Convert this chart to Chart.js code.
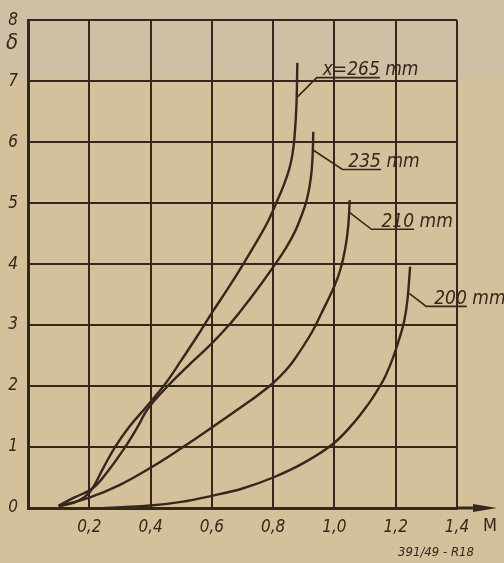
<!DOCTYPE html>
<html>
<head>
<meta charset="utf-8">
<script src="https://cdn.jsdelivr.net/npm/chart.js@4.4.1/dist/chart.umd.min.js"></script>
<style>
  html, body { margin: 0; padding: 0; }
  body {
    width: 504px;
    height: 563px;
    background: linear-gradient(to bottom, #cdc0a4 0px, #cdc0a4 77px, #d5c09c 77px, #d5c09c 100%);
  }
  #wrap { position: relative; width: 504px; height: 563px; }
</style>
</head>
<body>
<div id="wrap"><canvas id="chart" width="504" height="563"></canvas></div>
<script>
// curves: [M, delta]
const curve265 = [[0.1, 0.03], [0.15, 0.09], [0.185, 0.18], [0.21, 0.32], [0.245, 0.65], [0.284, 1.0], [0.33, 1.33], [0.39, 1.68], [0.45, 2.05], [0.5, 2.42], [0.55, 2.8], [0.6, 3.2], [0.65, 3.58], [0.7, 3.98], [0.75, 4.4], [0.785, 4.72], [0.81, 5.0], [0.835, 5.3], [0.852, 5.55], [0.863, 5.8], [0.87, 6.1], [0.876, 6.6], [0.879, 7.3]];
const curve235 = [[0.1, 0.04], [0.15, 0.17], [0.21, 0.32], [0.26, 0.6], [0.317, 1.0], [0.36, 1.35], [0.39, 1.62], [0.456, 2.0], [0.52, 2.32], [0.6, 2.7], [0.656, 3.0], [0.7, 3.27], [0.75, 3.6], [0.8, 3.95], [0.84, 4.25], [0.87, 4.52], [0.893, 4.8], [0.908, 5.02], [0.918, 5.25], [0.925, 5.5], [0.929, 5.8], [0.931, 6.17]];
const curve210 = [[0.1, 0.03], [0.2, 0.17], [0.3, 0.38], [0.4, 0.66], [0.5, 0.98], [0.6, 1.32], [0.7, 1.67], [0.75, 1.85], [0.8, 2.05], [0.84, 2.25], [0.87, 2.44], [0.925, 2.87], [0.96, 3.22], [1.0, 3.64], [1.02, 3.92], [1.035, 4.25], [1.045, 4.62], [1.05, 5.05]];
const curve200 = [[0.25, 0.0], [0.4, 0.04], [0.5, 0.1], [0.6, 0.2], [0.7, 0.32], [0.8, 0.5], [0.9, 0.74], [0.995, 1.05], [1.06, 1.38], [1.11, 1.7], [1.14, 1.93], [1.165, 2.15], [1.19, 2.45], [1.21, 2.75], [1.227, 3.05], [1.238, 3.4], [1.247, 3.96]];

// curve names and where their leader line leaves the curve
const curveNames = ["x=265", "235", "210", "200"];
const nameAnchors = [[0.877, 6.73], [0.928, 5.88], [1.049, 4.85], [1.244, 3.52]];
const unitText = " mm";

const xTicks = [0, 0.2, 0.4, 0.6, 0.8, 1.0, 1.2, 1.4];
const yTicks = [0, 1, 2, 3, 4, 5, 6, 7, 8];

const INK = "#35271b";
const FONT = "'DejaVu Sans Condensed', 'DejaVu Sans', sans-serif";

const toPoints = arr => arr.map(p => ({ x: p[0], y: p[1] }));

// leader line offsets (pixels) for each name: elbow dx, dy, gap before text
const leaderStyle = [
  { dx: 20, dy: -20, gap: 6, lift: 3 },
  { dx: 30, dy: 20, gap: 6, lift: 2 },
  { dx: 22, dy: 17, gap: 10, lift: 2 },
  { dx: 17, dy: 13, gap: 8, lift: 2 }
];

const extras = {
  id: "extras",
  afterDraw(chart) {
    const ctx = chart.ctx;
    const area = chart.chartArea;
    const xs = chart.scales.x;
    const ys = chart.scales.y;
    ctx.save();
    ctx.strokeStyle = INK;
    ctx.fillStyle = INK;

    // x axis arrow
    ctx.lineWidth = 3;
    ctx.beginPath();
    ctx.moveTo(area.right, area.bottom);
    ctx.lineTo(area.right + 22, area.bottom);
    ctx.stroke();
    ctx.beginPath();
    ctx.moveTo(area.right + 40, area.bottom);
    ctx.lineTo(area.right + 16, area.bottom - 4);
    ctx.lineTo(area.right + 16, area.bottom + 4);
    ctx.closePath();
    ctx.fill();

    // axis names
    ctx.font = "italic 22px " + FONT;
    ctx.textAlign = "center";
    ctx.textBaseline = "middle";
    ctx.fillText("δ", 12, 43);
    ctx.font = "18px " + FONT;
    ctx.fillText("M", 490, 526);

    ctx.font = "italic 13px " + FONT;
    ctx.fillText("391/49 - R18", 436, 553);

    // curve names with leader lines
    ctx.font = "italic 19px " + FONT;
    ctx.textAlign = "left";
    ctx.textBaseline = "alphabetic";
    ctx.lineWidth = 1.6;
    curveNames.forEach((name, i) => {
      const st = leaderStyle[i];
      const ax = xs.getPixelForValue(nameAnchors[i][0]);
      const ay = ys.getPixelForValue(nameAnchors[i][1]);
      const ex = ax + st.dx;
      const ey = ay + st.dy;
      const tx = ex + st.gap;
      const w = ctx.measureText(name).width;
      ctx.beginPath();
      ctx.moveTo(ax, ay);
      ctx.lineTo(ex, ey);
      ctx.lineTo(tx + w, ey);
      ctx.stroke();
      ctx.fillText(name + unitText, tx, ey - st.lift);
    });
    ctx.restore();
  }
};

const lineSet = (data) => ({
  data: toPoints(data),
  borderColor: INK,
  borderWidth: 2.4,
  pointRadius: 0,
  fill: false,
  tension: 0.4
});

new Chart(document.getElementById("chart"), {
  type: "line",
  data: {
    datasets: [lineSet(curve265), lineSet(curve235), lineSet(curve210), lineSet(curve200)]
  },
  options: {
    responsive: false,
    animation: false,
    devicePixelRatio: 1,
    layout: { padding: { top: 17, right: 47, left: 0, bottom: 0 } },
    plugins: { legend: { display: false }, tooltip: { enabled: false } },
    scales: {
      x: {
        type: "linear",
        min: 0,
        max: 1.4,
        afterBuildTicks: s => { s.ticks = xTicks.map(v => ({ value: v })); },
        afterFit: s => { s.height = 55; },
        ticks: {
          color: INK,
          font: { family: FONT, size: 17, style: "italic" },
          padding: 9,
          maxRotation: 0,
          autoSkip: false,
          callback: v => v === 0 ? "" : v.toFixed(1).replace(".", ",")
        },
        grid: { color: INK, lineWidth: 2, drawTicks: false },
        border: { color: INK, width: 3 }
      },
      y: {
        min: 0,
        max: 8,
        afterBuildTicks: s => { s.ticks = yTicks.map(v => ({ value: v })); },
        afterFit: s => { s.width = 28; },
        ticks: {
          color: INK,
          font: { family: FONT, size: 17, style: "italic" },
          padding: 10,
          autoSkip: false,
          callback: v => String(v)
        },
        grid: { color: INK, lineWidth: 2, drawTicks: false },
        border: { color: INK, width: 3 }
      }
    }
  },
  plugins: [extras]
});
</script>
</body>
</html>
